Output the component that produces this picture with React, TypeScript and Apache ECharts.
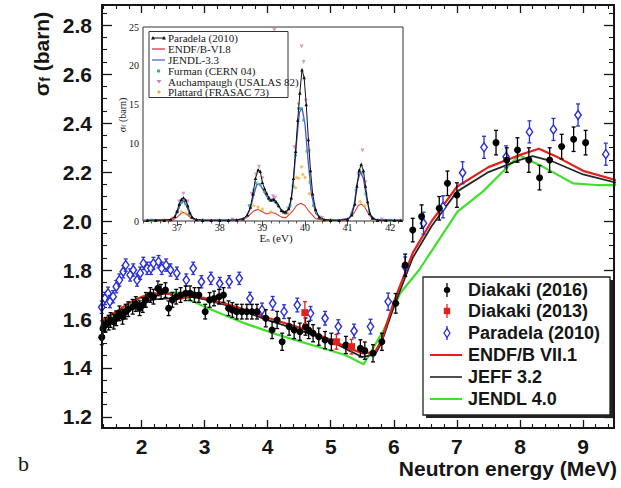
import React, { useEffect, useRef } from 'react';
import * as echarts from 'echarts';

// ---------- main axes ----------
const X_MIN = 1.374, X_MAX = 9.49, Y_MIN = 1.155, Y_MAX = 2.882;
const X_MAJOR = [2, 3, 4, 5, 6, 7, 8, 9];
const Y_MAJOR = [1.2, 1.4, 1.6, 1.8, 2.0, 2.2, 2.4, 2.6, 2.8];

// ---------- main data: [E (MeV), sigma (barn), error] ----------
const diakaki2016 = [
  [1.37,1.525,0.03],[1.39,1.562,0.03],[1.43,1.576,0.03],[1.48,1.585,0.03],[1.51,1.596,0.03],[1.56,1.589,0.03],
  [1.60,1.603,0.03],[1.65,1.623,0.03],[1.70,1.609,0.03],[1.75,1.630,0.03],[1.79,1.640,0.03],[1.86,1.650,0.03],
  [1.91,1.661,0.03],[1.97,1.644,0.03],[2.02,1.657,0.03],[2.07,1.678,0.03],[2.14,1.698,0.03],[2.19,1.691,0.03],
  [2.26,1.725,0.03],[2.31,1.711,0.03],[2.38,1.718,0.03],[2.43,1.644,0.03],[2.49,1.678,0.03],[2.55,1.691,0.03],
  [2.62,1.698,0.03],[2.70,1.705,0.03],[2.77,1.705,0.03],[2.84,1.698,0.03],[2.91,1.698,0.03],[3.01,1.630,0.03],
  [3.08,1.678,0.03],[3.15,1.684,0.03],[3.23,1.691,0.03],[3.30,1.698,0.03],[3.38,1.644,0.03],[3.44,1.637,0.03],
  [3.51,1.630,0.03],[3.59,1.630,0.03],[3.67,1.630,0.03],[3.75,1.630,0.03],[3.83,1.630,0.03],[3.97,1.603,0.035],
  [4.07,1.555,0.035],[4.15,1.596,0.035],[4.23,1.507,0.035],[4.34,1.569,0.035],[4.42,1.555,0.035],[4.51,1.548,0.035],
  [4.60,1.569,0.035],[4.65,1.555,0.035],[4.72,1.542,0.035],[4.81,1.528,0.035],[4.91,1.514,0.035],[5.01,1.507,0.035],
  [5.24,1.494,0.035],[5.47,1.480,0.035],[5.54,1.471,0.035],[5.67,1.460,0.035],[5.81,1.507,0.035],[6.03,1.664,0.04],
  [6.18,1.820,0.045],[6.30,1.963,0.048],[6.44,2.018,0.048],[6.72,2.052,0.048],[6.85,2.154,0.05],[7.00,2.106,0.05],
  [7.62,2.320,0.05],[7.79,2.249,0.05],[7.96,2.290,0.05],[8.14,2.249,0.05],[8.31,2.177,0.05],[8.47,2.249,0.05],
  [8.66,2.304,0.05],[8.85,2.334,0.05],[9.04,2.320,0.05],
];
const diakaki2013 = [[4.59,1.626,0.045],[5.09,1.507,0.03],[5.33,1.487,0.03]];
const paradela2010 = [
  [1.37,1.648,0.025],[1.42,1.684,0.025],[1.47,1.705,0.025],[1.50,1.671,0.025],[1.55,1.691,0.025],[1.60,1.732,0.025],
  [1.65,1.759,0.025],[1.71,1.793,0.025],[1.75,1.820,0.025],[1.82,1.780,0.025],[1.87,1.800,0.025],[1.93,1.759,0.025],
  [1.98,1.787,0.025],[2.03,1.827,0.025],[2.09,1.807,0.025],[2.15,1.807,0.025],[2.19,1.827,0.025],[2.27,1.834,0.025],
  [2.32,1.807,0.025],[2.39,1.820,0.025],[2.46,1.800,0.025],[2.56,1.787,0.025],[2.71,1.759,0.025],[2.82,1.807,0.025],
  [2.95,1.752,0.025],[3.10,1.766,0.025],[3.24,1.745,0.025],[3.39,1.752,0.025],[3.55,1.766,0.025],[3.72,1.684,0.025],
  [3.91,1.637,0.028],[4.08,1.664,0.028],[4.26,1.630,0.028],[4.47,1.657,0.028],[4.68,1.623,0.028],[4.91,1.603,0.028],
  [5.12,1.569,0.028],[5.37,1.551,0.028],[5.63,1.569,0.03],[5.91,1.671,0.035],[6.18,1.813,0.04],[6.47,1.991,0.045],
  [6.78,2.058,0.045],[7.09,2.197,0.045],[7.43,2.301,0.045],[7.78,2.262,0.045],[8.15,2.364,0.045],[8.53,2.374,0.045],
  [8.92,2.433,0.045],[9.36,2.273,0.045],
];
const endfVII1 = [
  [1.35,1.59],[1.6,1.63],[1.8,1.665],[2.0,1.69],[2.2,1.705],[2.45,1.703],[2.55,1.68],[2.65,1.685],[2.8,1.695],
  [3.0,1.685],[3.5,1.65],[4.0,1.605],[4.5,1.565],[5.0,1.515],[5.3,1.48],[5.5,1.46],[5.7,1.465],[5.8,1.51],
  [6.0,1.67],[6.3,1.87],[6.6,2.0],[7.0,2.14],[7.5,2.22],[8.0,2.27],[8.3,2.295],[8.6,2.26],[9.0,2.205],[9.55,2.165],
];
const jeff32 = [
  [1.35,1.575],[1.6,1.61],[1.8,1.64],[2.0,1.665],[2.2,1.68],[2.5,1.685],[2.8,1.69],[3.0,1.68],[3.5,1.645],
  [4.0,1.595],[4.5,1.555],[5.0,1.51],[5.3,1.47],[5.5,1.445],[5.7,1.455],[5.8,1.50],[6.0,1.65],[6.3,1.85],
  [6.6,1.98],[7.0,2.12],[7.5,2.20],[8.0,2.25],[8.2,2.265],[8.5,2.245],[9.0,2.19],[9.55,2.155],
];
const jendl40 = [
  [1.35,1.572],[1.77,1.657],[2.08,1.700],[2.50,1.708],[2.60,1.708],[2.77,1.678],[3.12,1.637],[3.64,1.582],
  [4.17,1.535],[4.70,1.494],[5.23,1.453],[5.52,1.415],[5.84,1.555],[6.10,1.705],[6.40,1.80],[7.01,2.038],
  [7.41,2.12],[7.99,2.269],[8.36,2.222],[8.84,2.154],[9.21,2.147],[9.55,2.147],
];

// ---------- inset data: [E (eV), sigma (barn)] ----------
const IN_X_MAJOR = [37, 38, 39, 40, 41, 42];
const IN_Y_TICKS = [0, 5, 10, 15, 20, 25];
const IN_Y_LABELS = [0, 10, 15, 20, 25];
const inParadela = [
  [36.3,0.1],[36.5,0.1],[36.7,0.1],[36.85,0.2],[36.95,0.6],[37.0,1.3],[37.05,2.2],[37.1,2.8],[37.15,3.0],
  [37.2,2.7],[37.25,2.0],[37.3,1.1],[37.35,0.5],[37.45,0.2],[37.6,0.1],[37.8,0.1],[38.0,0.1],[38.2,0.1],
  [38.4,0.15],[38.55,0.3],[38.65,0.8],[38.72,1.8],[38.78,3.5],[38.84,5.5],[38.9,6.6],[38.95,6.4],[39.0,5.0],
  [39.05,4.2],[39.1,3.6],[39.15,3.0],[39.2,2.7],[39.27,2.8],[39.32,2.5],[39.38,2.0],[39.45,1.4],[39.5,1.2],
  [39.55,1.2],[39.62,1.6],[39.68,3.0],[39.73,5.5],[39.78,9.0],[39.83,13.0],[39.88,16.5],[39.93,19.5],[39.98,18.5],
  [40.03,15.0],[40.08,10.5],[40.13,6.5],[40.18,3.5],[40.25,1.5],[40.33,0.5],[40.45,0.2],[40.6,0.1],[40.8,0.1],
  [41.0,0.2],[41.1,0.8],[41.17,2.2],[41.22,4.5],[41.27,6.5],[41.32,7.3],[41.37,6.5],[41.42,4.5],[41.47,2.5],
  [41.52,1.0],[41.58,0.4],[41.7,0.1],[41.9,0.1],[42.1,0.1],[42.25,0.1],
];
const inEndf68 = [
  [36.2,0.05],[36.9,0.1],[37.0,0.5],[37.1,1.0],[37.15,1.1],[37.22,0.9],[37.32,0.4],[37.45,0.1],[38.5,0.1],
  [38.65,0.5],[38.8,1.3],[38.9,1.5],[39.0,1.2],[39.1,0.9],[39.2,1.1],[39.3,1.0],[39.45,0.5],[39.55,0.4],
  [39.7,1.2],[39.8,2.0],[39.9,2.3],[40.0,2.0],[40.1,1.2],[40.25,0.3],[40.5,0.05],[41.0,0.1],[41.15,1.0],
  [41.25,2.0],[41.32,2.2],[41.4,1.8],[41.5,0.8],[41.6,0.2],[41.8,0.05],[42.3,0.05],
];
const inJendl33 = [
  [36.2,0.1],[36.9,0.2],[37.0,1.0],[37.08,2.2],[37.15,2.6],[37.22,2.0],[37.3,0.8],[37.4,0.2],[37.6,0.1],
  [38.4,0.1],[38.6,0.4],[38.72,1.6],[38.8,3.4],[38.87,4.7],[38.93,4.8],[39.0,4.2],[39.08,3.4],[39.15,2.7],
  [39.25,2.6],[39.35,2.2],[39.45,1.3],[39.55,1.0],[39.65,1.8],[39.72,4.5],[39.8,10.0],[39.87,14.0],[39.93,14.6],
  [40.0,12.5],[40.07,8.0],[40.15,3.5],[40.25,1.0],[40.4,0.2],[40.8,0.1],[41.05,0.4],[41.15,2.0],[41.23,5.0],
  [41.3,6.3],[41.37,5.5],[41.45,2.8],[41.53,0.8],[41.65,0.2],[42.0,0.1],[42.3,0.1],
];
const inFurman = [
  [36.4,0.1],[36.7,0.1],[37.0,1.2],[37.1,2.4],[37.2,2.2],[37.3,0.8],[37.6,0.1],[38.0,0.1],[38.3,0.1],[38.7,2.0],
  [38.8,4.0],[38.85,4.9],[38.95,4.7],[39.05,3.8],[39.15,3.0],[39.25,2.8],[39.35,2.2],[39.45,1.3],[39.55,1.0],
  [39.65,2.0],[39.72,4.5],[39.78,8.5],[39.85,14.5],[39.9,14.5],[39.97,13.0],[40.05,9.0],[40.12,5.0],[40.2,2.0],
  [40.35,0.5],[40.6,0.1],[41.1,1.0],[41.2,4.0],[41.28,6.5],[41.35,6.2],[41.43,3.5],[41.5,1.2],[41.7,0.1],[42.0,0.1],
];
const inAuchampaugh = [
  [36.9,0.3],[37.05,2.5],[37.15,3.5],[37.25,2.5],[38.3,0.2],[38.75,3.5],[38.85,6.0],[38.92,7.0],[39.0,5.5],
  [39.25,3.2],[39.3,3.0],[39.6,1.6],[39.75,9.5],[39.85,15.0],[39.92,22.5],[39.97,20.5],[40.02,15.5],[40.1,9.0],
  [40.4,0.4],[41.25,6.0],[41.35,9.1],[41.42,5.0],[41.8,0.2],[39.28,24.6],
];
const inPlattard = [
  [37.1,1.2],[37.2,1.0],[38.8,2.0],[38.9,1.8],[39.0,1.5],[39.2,1.2],[39.6,1.0],[39.78,4.3],[39.8,5.6],[39.85,5.5],
  [39.92,7.0],[39.95,6.0],[40.0,5.6],[40.1,3.5],[41.3,2.5],[41.4,2.0],
];

// ---------- tick helpers ----------
const range = (a: number, b: number) => { const r: number[] = []; for (let k = a; k <= b; k++) r.push(k); return r; };
const X_MINOR = range(7, 47).filter(k => k % 5 !== 0).map(k => Math.round(k * 20) / 100);
const Y_MINOR = range(24, 57).filter(k => k % 4 !== 0).map(k => Math.round(k * 5) / 100);
const IN_X_MINOR = range(181, 211).filter(k => k % 5 !== 0).map(k => Math.round(k * 20) / 100);
const IN_Y_MINOR = range(1, 24).filter(k => k % 5 !== 0);

const SANS = '"Liberation Sans", Arial, sans-serif';
const SERIF = '"Liberation Serif", "Times New Roman", serif';
const INK = '#161616';
const RED = '#e3201c', BLUE = '#2a2fd6', GREEN = '#3ee02a';

function makeErr(kind: string, color: string) {
  return (params: any, api: any) => {
    const x = api.value(0), y = api.value(1), e = api.value(2);
    const p = api.coord([x, y]);
    const hi = api.coord([x, y + e]);
    const lo = api.coord([x, y - e]);
    const st = { stroke: color, lineWidth: 1.3 };
    const kids: any[] = [
      { type: 'line', shape: { x1: p[0], y1: hi[1], x2: p[0], y2: lo[1] }, style: st },
      { type: 'line', shape: { x1: p[0] - 2, y1: hi[1], x2: p[0] + 2, y2: hi[1] }, style: st },
      { type: 'line', shape: { x1: p[0] - 2, y1: lo[1], x2: p[0] + 2, y2: lo[1] }, style: st },
    ];
    if (kind === 'circle') kids.push({ type: 'circle', shape: { cx: p[0], cy: p[1], r: 3.5 }, style: { fill: color } });
    if (kind === 'square') kids.push({ type: 'rect', shape: { x: p[0] - 3.5, y: p[1] - 3.5, width: 7, height: 7 }, style: { fill: color } });
    if (kind === 'diamond') kids.push({ type: 'polygon', shape: { points: [[p[0], p[1] - 4.5], [p[0] + 3.2, p[1]], [p[0], p[1] + 4.5], [p[0] - 3.2, p[1]]] }, style: { fill: '#fff', stroke: color, lineWidth: 1.4 } });
    return { type: 'group', children: kids };
  };
}

function tickAxis(dim: 'x' | 'y', grid: number, min: number, max: number, pos: string, values: number[], len: number, width: number, label?: any) {
  return {
    type: 'value', gridIndex: grid, min, max, position: pos,
    axisLine: { show: false }, splitLine: { show: false },
    axisTick: { show: true, inside: true, length: len, customValues: values, lineStyle: { color: INK, width } },
    axisLabel: label ? label : { show: false },
  };
}

export default function App() {
  const ref = useRef<HTMLDivElement>(null);
  useEffect(() => {
    if (!ref.current) return;
    const chart = echarts.init(ref.current, null, { renderer: 'svg' });
    const mainXLabel = { show: true, customValues: X_MAJOR, margin: 8, fontSize: 21, fontWeight: 'bold', fontFamily: SANS, color: INK };
    const mainYLabel = { show: true, customValues: Y_MAJOR, margin: 10, fontSize: 21, fontWeight: 'bold', fontFamily: SANS, color: INK, formatter: (v: number) => v.toFixed(1) };
    const inXLabel = { show: true, customValues: IN_X_MAJOR, margin: 1, fontSize: 10, fontFamily: SERIF, color: INK };
    const inYLabel = { show: true, customValues: IN_Y_LABELS, margin: 4, fontSize: 10, fontFamily: SERIF, color: INK };

    const legendY = [290, 311, 333, 355, 377, 399];
    const legendNames = ['Diakaki (2016)', 'Diakaki (2013)', 'Paradela (2010)', 'ENDF/B VII.1', 'JEFF 3.2', 'JENDL 4.0'];
    const inLegY = [38, 49, 60, 71, 81.5, 92];
    const inLegNames = ['Paradela (2010)', 'ENDF/B-VI.8', 'JENDL-3.3', 'Furman (CERN 04)', 'Auchampaugh (USALAS 82)', 'Plattard (FRASAC 73)'];
    const mx = 447;
    const errMark = (y: number, color: string) => [
      { type: 'line', z: 102, shape: { x1: mx, y1: y - 7, x2: mx, y2: y + 7 }, style: { stroke: color, lineWidth: 1.3 } },
    ];
    const graphic: any[] = [
      { type: 'rect', z: 100, shape: { x: 426, y: 280, width: 187, height: 138 }, style: { fill: '#222' } },
      { type: 'rect', z: 101, shape: { x: 423, y: 277, width: 187, height: 138 }, style: { fill: '#fff', stroke: '#222', lineWidth: 1.3 } },
      ...errMark(legendY[0], '#000'),
      { type: 'circle', z: 102, shape: { cx: mx, cy: legendY[0], r: 3.3 }, style: { fill: '#000' } },
      ...errMark(legendY[1], RED),
      { type: 'rect', z: 102, shape: { x: mx - 3.2, y: legendY[1] - 3.2, width: 6.4, height: 6.4 }, style: { fill: RED } },
      ...errMark(legendY[2], BLUE),
      { type: 'polygon', z: 102, shape: { points: [[mx, legendY[2] - 4.5], [mx + 3, legendY[2]], [mx, legendY[2] + 4.5], [mx - 3, legendY[2]]] }, style: { fill: '#fff', stroke: BLUE, lineWidth: 1.3 } },
      { type: 'line', z: 102, shape: { x1: 430, y1: legendY[3], x2: 462, y2: legendY[3] }, style: { stroke: RED, lineWidth: 2 } },
      { type: 'line', z: 102, shape: { x1: 430, y1: legendY[4], x2: 462, y2: legendY[4] }, style: { stroke: '#222', lineWidth: 1.6 } },
      { type: 'line', z: 102, shape: { x1: 430, y1: legendY[5], x2: 462, y2: legendY[5] }, style: { stroke: GREEN, lineWidth: 2 } },
      ...legendNames.map((t, i) => ({ type: 'text', z: 102, x: 468, y: legendY[i], style: { text: t, font: `bold 18px ${SANS}`, fill: INK, align: 'left', verticalAlign: 'middle', textAlign: 'left', textVerticalAlign: 'middle' } })),
      // axis titles
      { type: 'text', z: 50, x: 41, y: 54, rotation: Math.PI / 2, style: {
        text: '{s|σ}{f|f}{s| (barn)}', align: 'center', verticalAlign: 'middle', textAlign: 'center', textVerticalAlign: 'middle', fill: INK,
        rich: {
          s: { fontSize: 21, fontWeight: 'bold', fontFamily: SANS, lineHeight: 21, verticalAlign: 'top', fill: INK },
          f: { fontSize: 14, fontWeight: 'bold', fontFamily: SANS, lineHeight: 14, verticalAlign: 'bottom', padding: [10, 0, 0, 0], fill: INK },
        } } },
      { type: 'text', z: 50, x: 617, y: 468, style: { text: 'Neutron energy (MeV)', font: `bold 21px ${SANS}`, fill: INK, align: 'right', verticalAlign: 'middle', textAlign: 'right', textVerticalAlign: 'middle' } },
      { type: 'text', z: 50, x: 18, y: 463, style: { text: 'b', font: `22px ${SERIF}`, fill: INK, align: 'left', verticalAlign: 'middle', textAlign: 'left', textVerticalAlign: 'middle' } },
      // inset titles
      { type: 'text', z: 50, x: 276, y: 238, style: {
        text: '{s|E}{f|n}{s| (eV)}', align: 'center', verticalAlign: 'middle', textAlign: 'center', textVerticalAlign: 'middle', fill: INK,
        rich: {
          s: { fontSize: 11, fontFamily: SERIF, lineHeight: 11, verticalAlign: 'top', fill: INK },
          f: { fontSize: 7, fontFamily: SERIF, lineHeight: 7, verticalAlign: 'bottom', padding: [6, 0, 0, 0], fill: INK },
        } } },
      { type: 'text', z: 50, x: 122, y: 115, rotation: Math.PI / 2, style: {
        text: '{s|σ}{f|f}{s| (barn)}', align: 'center', verticalAlign: 'middle', textAlign: 'center', textVerticalAlign: 'middle', fill: INK,
        rich: {
          s: { fontSize: 10, fontFamily: SERIF, lineHeight: 10, verticalAlign: 'top', fill: INK },
          f: { fontSize: 7, fontFamily: SERIF, lineHeight: 7, verticalAlign: 'bottom', padding: [5, 0, 0, 0], fill: INK },
        } } },
      // inset legend
      { type: 'rect', z: 60, shape: { x: 149, y: 31.5, width: 139, height: 66 }, style: { fill: '#fff', stroke: '#333', lineWidth: 1 } },
      { type: 'line', z: 61, shape: { x1: 152, y1: inLegY[0], x2: 165, y2: inLegY[0] }, style: { stroke: '#111', lineWidth: 1 } },
      { type: 'polygon', z: 61, shape: { points: [[153, inLegY[0] - 2], [155, inLegY[0] + 1.5], [151, inLegY[0] + 1.5]] }, style: { fill: '#111' } },
      { type: 'polygon', z: 61, shape: { points: [[164, inLegY[0] - 2], [166, inLegY[0] + 1.5], [162, inLegY[0] + 1.5]] }, style: { fill: '#111' } },
      { type: 'line', z: 61, shape: { x1: 152, y1: inLegY[1], x2: 165, y2: inLegY[1] }, style: { stroke: '#c8283a', lineWidth: 1.2 } },
      { type: 'line', z: 61, shape: { x1: 152, y1: inLegY[2], x2: 165, y2: inLegY[2] }, style: { stroke: '#4656d6', lineWidth: 1.2 } },
      { type: 'rect', z: 61, shape: { x: 157, y: inLegY[3] - 1.5, width: 3, height: 3 }, style: { fill: '#3aa89a' } },
      { type: 'polygon', z: 61, shape: { points: [[156.5, inLegY[4] - 1.5], [161.5, inLegY[4] - 1.5], [159, inLegY[4] + 2]] }, style: { fill: '#d47cc4' } },
      { type: 'polygon', z: 61, shape: { points: [[159, inLegY[5] - 2], [161, inLegY[5]], [159, inLegY[5] + 2], [157, inLegY[5]]] }, style: { fill: '#f2b23a' } },
      ...inLegNames.map((t, i) => ({ type: 'text', z: 61, x: 168, y: inLegY[i], style: { text: t, font: `11px ${SERIF}`, fill: INK, align: 'left', verticalAlign: 'middle', textAlign: 'left', textVerticalAlign: 'middle' } })),
    ];

    const option: any = {
      animation: false,
      backgroundColor: '#fff',
      grid: [
        { left: 102, right: 7, top: 5, bottom: 60, show: true, borderColor: INK, borderWidth: 2, backgroundColor: 'transparent', z: 5 },
        { left: 143, top: 27, width: 260, height: 194, show: true, borderColor: '#333', borderWidth: 1, backgroundColor: '#fff', z: 6 },
      ],
      xAxis: [
        tickAxis('x', 0, X_MIN, X_MAX, 'bottom', X_MAJOR, 8, 1.3, mainXLabel),
        tickAxis('x', 0, X_MIN, X_MAX, 'bottom', X_MINOR, 4, 1.1),
        tickAxis('x', 0, X_MIN, X_MAX, 'top', X_MAJOR, 8, 1.3),
        tickAxis('x', 0, X_MIN, X_MAX, 'top', X_MINOR, 4, 1.1),
        tickAxis('x', 1, 36.2, 42.3, 'bottom', IN_X_MAJOR, 5, 0.8, inXLabel),
        tickAxis('x', 1, 36.2, 42.3, 'bottom', IN_X_MINOR, 2.5, 0.7),
        tickAxis('x', 1, 36.2, 42.3, 'top', IN_X_MAJOR, 5, 0.8),
        tickAxis('x', 1, 36.2, 42.3, 'top', IN_X_MINOR, 2.5, 0.7),
      ],
      yAxis: [
        tickAxis('y', 0, Y_MIN, Y_MAX, 'left', Y_MAJOR, 10, 1.3, mainYLabel),
        tickAxis('y', 0, Y_MIN, Y_MAX, 'left', Y_MINOR, 5, 1.1),
        tickAxis('y', 0, Y_MIN, Y_MAX, 'right', Y_MAJOR, 10, 1.3),
        tickAxis('y', 0, Y_MIN, Y_MAX, 'right', Y_MINOR, 5, 1.1),
        tickAxis('y', 1, 0, 25, 'left', IN_Y_TICKS, 5, 0.8, inYLabel),
        tickAxis('y', 1, 0, 25, 'left', IN_Y_MINOR, 2.5, 0.7),
        tickAxis('y', 1, 0, 25, 'right', IN_Y_TICKS, 5, 0.8),
        tickAxis('y', 1, 0, 25, 'right', IN_Y_MINOR, 2.5, 0.7),
      ],
      series: [
        { name: 'JENDL 4.0', type: 'line', xAxisIndex: 0, yAxisIndex: 0, data: jendl40, showSymbol: false, symbol: 'none', lineStyle: { color: GREEN, width: 2.2 }, z: 2 },
        { name: 'JEFF 3.2', type: 'line', xAxisIndex: 0, yAxisIndex: 0, data: jeff32, showSymbol: false, symbol: 'none', lineStyle: { color: '#262626', width: 1.8 }, z: 2 },
        { name: 'ENDF/B VII.1', type: 'line', xAxisIndex: 0, yAxisIndex: 0, data: endfVII1, showSymbol: false, symbol: 'none', lineStyle: { color: RED, width: 2.2 }, z: 2 },
        { name: 'Paradela (2010)', type: 'custom', xAxisIndex: 0, yAxisIndex: 0, data: paradela2010, renderItem: makeErr('diamond', BLUE), encode: { x: 0, y: 1 }, z: 3 },
        { name: 'Diakaki (2016)', type: 'custom', xAxisIndex: 0, yAxisIndex: 0, data: diakaki2016, renderItem: makeErr('circle', '#000'), encode: { x: 0, y: 1 }, z: 4 },
        { name: 'Diakaki (2013)', type: 'custom', xAxisIndex: 0, yAxisIndex: 0, data: diakaki2013, renderItem: makeErr('square', RED), encode: { x: 0, y: 1 }, z: 4 },
        // inset
        { type: 'line', xAxisIndex: 4, yAxisIndex: 4, data: inEndf68, symbol: 'none', lineStyle: { color: '#d8402c', width: 1.1 }, z: 10 },
        { type: 'line', xAxisIndex: 4, yAxisIndex: 4, data: inJendl33, symbol: 'none', lineStyle: { color: '#4656d6', width: 1.3 }, z: 10 },
        { type: 'scatter', xAxisIndex: 4, yAxisIndex: 4, data: inFurman, symbol: 'rect', symbolSize: 3, itemStyle: { color: '#3aa89a' }, z: 11 },
        { type: 'scatter', xAxisIndex: 4, yAxisIndex: 4, data: inPlattard, symbol: 'diamond', symbolSize: 4, itemStyle: { color: '#f2b23a' }, z: 11 },
        { type: 'scatter', xAxisIndex: 4, yAxisIndex: 4, data: inAuchampaugh, symbol: 'triangle', symbolRotate: 180, symbolSize: 4, itemStyle: { color: '#d47cc4' }, z: 11 },
        { type: 'line', xAxisIndex: 4, yAxisIndex: 4, data: inParadela, symbol: 'triangle', symbolSize: 3.5, showSymbol: true, itemStyle: { color: '#111' }, lineStyle: { color: '#111', width: 1 }, z: 12 },
      ],
      graphic,
    };
    chart.setOption(option);
    return () => chart.dispose();
  }, []);
  return <div ref={ref} style={{ position: 'fixed', left: 0, top: 0, width: 621, height: 488, background: '#fff' }} />;
}
